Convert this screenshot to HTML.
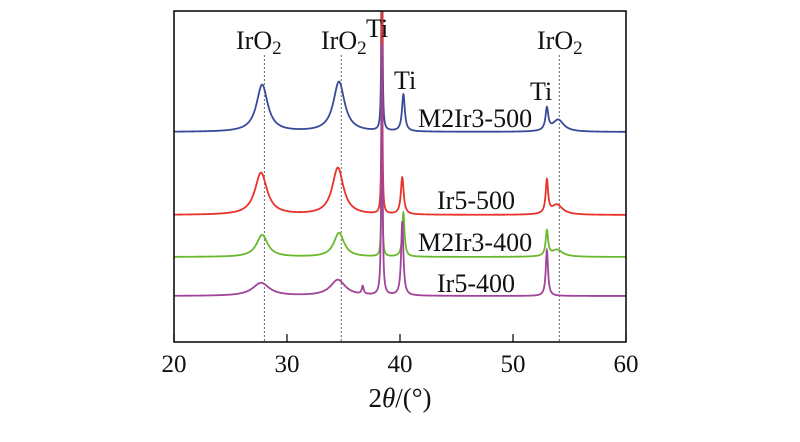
<!DOCTYPE html>
<html><head><meta charset="utf-8"><style>
html,body{margin:0;padding:0;background:#fff;width:800px;height:442px;overflow:hidden}
svg text{font-family:"Liberation Serif",serif;fill:#111}
</style></head><body>
<svg id="chart" width="800" height="442" viewBox="0 0 800 442" xmlns="http://www.w3.org/2000/svg">
<defs><clipPath id="clip"><rect x="174" y="11" width="452" height="331"/></clipPath></defs>
<g id="refs"></g>
<g id="series" clip-path="url(#clip)"></g>
<rect x="174" y="11" width="452" height="331" fill="none" stroke="#000" stroke-width="1.5"/>
<g id="ticks"></g>
<text x="400" y="407" font-size="27" text-anchor="middle">2<tspan font-style="italic">θ</tspan>/(°)</text>
<g font-size="26">
<text x="236" y="49">IrO<tspan font-size="19" dy="5">2</tspan></text>
<text x="321" y="49">IrO<tspan font-size="19" dy="5">2</tspan></text>
<text x="366" y="37">Ti</text>
<text x="394" y="89">Ti</text>
<text x="530" y="100">Ti</text>
<text x="537" y="49">IrO<tspan font-size="19" dy="5">2</tspan></text>
<text x="418" y="127">M2Ir3-500</text>
<text x="437" y="209">Ir5-500</text>
<text x="418" y="251">M2Ir3-400</text>
<text x="437" y="292">Ir5-400</text>
</g>
</svg>
<script>
const xTicks=[20,30,40,50,60];
const refLines=[28.0,34.8,54.1];
const seriesNames=["M2Ir3-500","Ir5-500","M2Ir3-400","Ir5-400"];
const seriesColors=["#3a4a9a","#e8322a","#6ab82e","#a0449a"];
const baselines=[210,127,85,46];
const peakPos=[
 [27.8,34.6,38.4,40.3,53.0,54.0],
 [27.7,34.5,38.4,40.2,53.0,53.9],
 [27.8,34.6,38.4,40.3,53.0,53.9],
 [27.7,34.5,36.7,38.4,40.2,53.0]];
const peakHeights=[
 [47,50,340,37,22,12],
 [42,47,280,37,33,10],
 [22,24,200,44,25,7],
 [13,16,8,250,74,46]];
const peakWidths=[
 [0.6,0.6,0.04,0.15,0.15,0.6],
 [0.65,0.6,0.04,0.15,0.13,0.6],
 [0.6,0.55,0.04,0.12,0.13,0.6],
 [0.9,0.8,0.1,0.06,0.12,0.12]];
const X=v=>174+(v-20)*(452/40);
const Y=v=>342-v;
const NS="http://www.w3.org/2000/svg";
const tg=document.getElementById('ticks');
xTicks.forEach(t=>{
 const l=document.createElementNS(NS,'line');
 
 
 l.setAttribute('x1',X(t));l.setAttribute('x2',X(t));l.setAttribute('y1',342);l.setAttribute('y2',334);
 l.setAttribute('stroke','#000');l.setAttribute('stroke-width','1.2');tg.appendChild(l);
 const tx=document.createElementNS(NS,'text');
 
 
 tx.setAttribute('x',X(t));tx.setAttribute('y',372);tx.setAttribute('font-size','25');tx.setAttribute('text-anchor','middle');
 tx.textContent=t;tg.appendChild(tx);
});
const rg=document.getElementById('refs');
refLines.forEach(r=>{
 const l=document.createElementNS(NS,'line');
 
 
 l.setAttribute('x1',X(r));l.setAttribute('x2',X(r));l.setAttribute('y1',55);l.setAttribute('y2',342);
 l.setAttribute('stroke','#666');l.setAttribute('stroke-dasharray','2,2');l.setAttribute('stroke-width','1');rg.appendChild(l);
});
const sg=document.getElementById('series');
seriesNames.forEach((n,i)=>{
 let d='';
 for(let x=20;x<=60.0001;x+=0.01){
  let y=baselines[i];
  peakPos[i].forEach((p,k)=>{const w=peakWidths[i][k];y+=peakHeights[i][k]/(1+((x-p)/w)**2);});
  d+=(d?'L':'M')+X(x).toFixed(2)+','+Y(y).toFixed(2);
 }
 const p=document.createElementNS(NS,'path');
 
 
 p.setAttribute('d',d);p.setAttribute('fill','none');p.setAttribute('stroke',seriesColors[i]);p.setAttribute('stroke-width','1.8');
 sg.appendChild(p);
});
</script>
</body></html>
